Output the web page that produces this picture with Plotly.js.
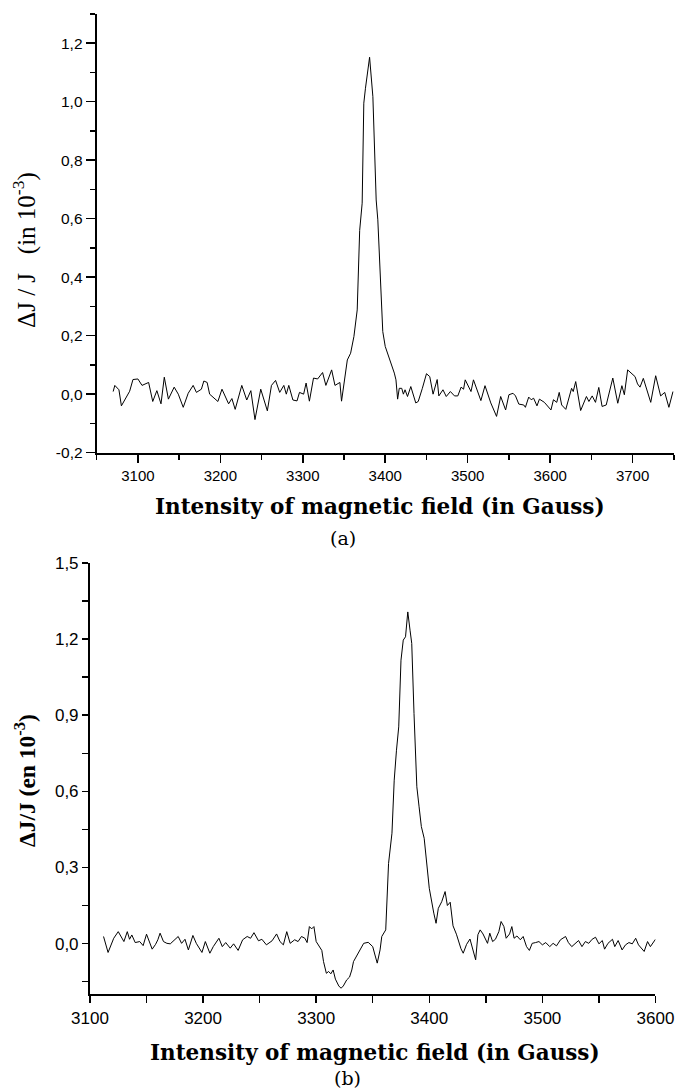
<!DOCTYPE html>
<html>
<head>
<meta charset="utf-8">
<script src="https://cdn.plot.ly/plotly-3.0.1.min.js"></script>
<style>html,body{margin:0;padding:0;background:#fff;}#chart{width:677px;height:1091px;}</style>
</head>
<body>
<div id="chart"></div>
<script>
// Panel (a): field in Gauss, ΔJ/J in 10^-3
const fieldA = [3070,3072,3077,3080,3090,3094,3100,3105,3113,3118,3123,3128,3132,3137,3144,3149,3155,3161,3167,3171,3177,3180,3184,3187,3197,3202,3210,3214,3218,3226,3232,3237,3242,3249,3257,3262,3267,3272,3277,3280,3283,3288,3293,3296,3301,3304,3308,3313,3318,3324,3328,3335,3339,3345,3347,3354,3358,3362,3366,3369,3372,3374,3376,3381,3385,3389,3391,3394,3397,3400,3405,3411,3413,3415,3417,3420,3422,3424,3427,3431,3437,3440,3445,3450,3454,3458,3463,3465,3470,3474,3479,3484,3488,3492,3495,3497,3504,3507,3516,3521,3528,3535,3540,3546,3550,3555,3558,3562,3568,3570,3574,3577,3580,3584,3587,3593,3601,3604,3608,3611,3614,3619,3626,3628,3631,3637,3644,3647,3651,3655,3659,3663,3668,3676,3682,3687,3690,3694,3703,3706,3709,3713,3722,3728,3734,3739,3744,3749];
const signalA = [0.009,0.03,0.015,-0.04,0.01,0.05,0.052,0.03,0.04,-0.025,0.012,-0.033,0.058,-0.017,0.024,0.0,-0.045,0.003,0.03,0.006,0.017,0.045,0.04,0.0,-0.025,0.017,-0.033,-0.015,-0.052,0.03,-0.02,0.012,-0.087,0.017,-0.057,0.03,0.047,0.006,0.03,0.0,0.03,-0.02,-0.023,0.006,0.0,0.038,-0.024,0.055,0.052,0.074,0.03,0.083,0.03,0.04,-0.024,0.117,0.14,0.197,0.288,0.56,0.653,0.995,1.046,1.152,1.017,0.664,0.596,0.425,0.214,0.163,0.123,0.072,0.049,-0.017,0.02,0.02,0.0,0.015,-0.008,0.026,-0.03,-0.025,0.02,0.07,0.06,0.0,0.05,-0.006,0.015,-0.008,0.009,-0.006,-0.006,0.024,0.017,0.049,0.009,0.049,-0.022,0.029,-0.03,-0.076,-0.008,-0.054,-0.002,0.003,-0.006,-0.034,-0.037,-0.045,-0.01,-0.019,-0.014,-0.04,-0.017,-0.028,-0.054,-0.019,-0.028,0.006,-0.037,-0.052,0.02,0.009,0.043,-0.056,-0.008,-0.025,-0.006,-0.028,0.023,-0.042,-0.037,0.055,-0.031,0.029,-0.002,0.083,0.06,0.035,0.024,0.054,-0.028,0.063,-0.006,0.006,-0.045,0.009];

// Panel (b)
const fieldB = [3112,3116,3121,3125,3130,3133,3135,3137,3140,3144,3147,3150,3155,3158,3160,3162,3165,3168,3171,3175,3178,3181,3184,3187,3191,3194,3199,3202,3206,3209,3214,3217,3220,3224,3227,3231,3235,3239,3242,3245,3249,3252,3256,3261,3265,3268,3271,3274,3277,3281,3284,3287,3290,3292,3294,3296,3298,3300,3303,3305,3306.5,3309,3311,3313,3315,3317,3320,3322,3324,3327,3329.5,3331.5,3333,3336,3339,3342,3346,3350,3352,3354,3356.5,3358,3361.5,3364,3367,3369,3371,3373,3375,3377,3379,3381,3383,3384.5,3386.5,3389,3391,3393,3395.5,3398,3400,3404,3406,3408,3411,3414,3416,3418.5,3421,3424,3428,3430,3433,3436,3439.5,3441,3443,3445,3447.5,3449.5,3451.5,3453.5,3456,3458.5,3461.5,3463.5,3466,3468,3471,3473,3475,3477.5,3480.5,3483,3486,3488.5,3491,3494,3497,3500,3503,3506.5,3509.5,3512.5,3516,3520.5,3523,3526,3529,3532,3535,3538,3541,3544,3547,3550,3553,3555,3558,3562,3564,3567,3570.5,3573.5,3576.5,3579.5,3582.5,3585,3590,3593,3595.5,3600];
const signalB = [0.028,-0.035,0.021,0.047,0.008,0.047,0.017,0.034,0.004,0.008,-0.008,0.037,-0.022,-0.003,0.015,0.041,0.008,0.001,-0.001,0.017,0.028,0.001,0.017,-0.025,0.032,0.001,-0.035,0.008,-0.038,-0.012,0.021,-0.012,0.004,-0.018,-0.001,-0.027,0.015,0.028,0.021,0.043,0.011,0.017,-0.005,0.011,0.038,0.008,-0.005,0.047,0.001,0.015,0.008,0.028,0.021,0.004,0.067,0.058,0.067,0.008,-0.012,-0.027,-0.071,-0.117,-0.11,-0.119,-0.104,-0.14,-0.167,-0.176,-0.167,-0.143,-0.132,-0.104,-0.071,-0.045,-0.025,0.001,0.005,-0.012,-0.045,-0.077,-0.025,0.028,0.054,0.316,0.435,0.644,0.762,0.854,1.117,1.196,1.209,1.307,1.235,1.183,0.907,0.618,0.539,0.461,0.415,0.303,0.218,0.12,0.08,0.139,0.165,0.205,0.15,0.163,0.07,0.037,-0.02,-0.038,-0.003,0.018,-0.035,-0.064,0.035,0.054,0.038,0.021,0.001,0.041,0.008,0.017,0.047,0.087,0.067,0.021,0.038,0.067,0.021,0.03,0.015,0.028,-0.012,-0.027,0.001,0.004,0.008,-0.005,0.004,-0.012,0.001,-0.009,0.015,0.028,0.004,-0.012,0.001,0.012,-0.012,0.008,0.001,0.017,0.025,-0.001,0.012,-0.022,0.001,0.017,-0.012,0.012,-0.025,-0.005,0.004,-0.001,0.021,-0.005,-0.031,0.008,-0.012,0.017];

const yTicksA = [-0.2,0,0.2,0.4,0.6,0.8,1.0,1.2];
const yLabelsA = ['-0,2','0,0','0,2','0,4','0,6','0,8','1,0','1,2'];
const yTicksB = [0,0.3,0.6,0.9,1.2,1.5];
const yLabelsB = ['0,0','0,3','0,6','0,9','1,2','1,5'];

const serif = 'Liberation Serif, Times New Roman, serif';
const cmserif = 'DejaVu Serif, serif';
const sans = 'Liberation Sans, Arial, sans-serif';

const traces = [
  {x: fieldA, y: signalA, type: 'scatter', mode: 'lines', line: {color: '#000', width: 1}, xaxis: 'x', yaxis: 'y', hoverinfo: 'skip'},
  {x: fieldB, y: signalB, type: 'scatter', mode: 'lines', line: {color: '#000', width: 1}, xaxis: 'x2', yaxis: 'y2', hoverinfo: 'skip'}
];

function axBase(extra) {
  return Object.assign({
    showgrid: false, zeroline: false, showline: true, linecolor: '#000', linewidth: 2,
    ticks: 'outside', tickcolor: '#000', tickwidth: 1.5, mirror: false
  }, extra);
}

const layout = {
  width: 677, height: 1091,
  margin: {l: 0, r: 0, t: 0, b: 0},
  paper_bgcolor: '#fff', plot_bgcolor: '#fff',
  showlegend: false,
  xaxis: axBase({domain: [0.1428, 0.9953], range: [3050, 3750], anchor: 'y',
    tickvals: [3100,3200,3300,3400,3500,3600,3700], ticklen: 8,
    tickfont: {family: sans, size: 15, color: '#000'},
    minor: {dtick: 50, tick0: 3050, ticklen: 5, tickcolor: '#000', tickwidth: 1.5, ticks: 'outside', showgrid: false}}),
  yaxis: axBase({domain: [0.5851, 0.9872], range: [-0.2, 1.3], anchor: 'x',
    tickvals: yTicksA, ticktext: yLabelsA, ticklen: 9,
    tickfont: {family: sans, size: 15.5, color: '#000'},
    minor: {dtick: 0.1, tick0: -0.2, ticklen: 5, tickcolor: '#000', tickwidth: 1.5, ticks: 'outside', showgrid: false}}),
  xaxis2: axBase({domain: [0.1329, 0.9682], range: [3100, 3600], anchor: 'y2',
    tickvals: [3100,3200,3300,3400,3500,3600], ticklen: 7,
    tickfont: {family: sans, size: 17, color: '#000'},
    minor: {dtick: 50, tick0: 3100, ticklen: 7, tickcolor: '#000', tickwidth: 1.5, ticks: 'outside', showgrid: false}}),
  yaxis2: axBase({domain: [0.0886, 0.4840], range: [-0.2, 1.5], anchor: 'x2',
    tickvals: yTicksB, ticktext: yLabelsB, ticklen: 6,
    tickfont: {family: sans, size: 17, color: '#000'},
    minor: {dtick: 0.15, tick0: 0, ticklen: 6, tickcolor: '#000', tickwidth: 1.5, ticks: 'outside', showgrid: false}}),
  annotations: [
    {xref: 'paper', yref: 'paper', x: 0.0369, y: 0.7709, xanchor: 'center', yanchor: 'middle', showarrow: false, textangle: -90,
     text: 'ΔJ / J\u00a0\u00a0\u00a0(in 10<sup>-3</sup>)', font: {family: serif, size: 25, color: '#000'}},
    {xref: 'paper', yref: 'paper', x: 0.5613, y: 0.5353, xanchor: 'center', yanchor: 'middle', showarrow: false,
     text: '<b>Intensity of magnetic field (in Gauss)</b>', font: {family: cmserif, size: 21.5, color: '#000'}},
    {xref: 'paper', yref: 'paper', x: 0.5066, y: 0.5069, xanchor: 'center', yanchor: 'middle', showarrow: false,
     text: '(a)', font: {family: cmserif, size: 19, color: '#000'}},
    {xref: 'paper', yref: 'paper', x: 0.0369, y: 0.285, xanchor: 'center', yanchor: 'middle', showarrow: false, textangle: -90,
     text: '<b>ΔJ/J (en 10<sup>-3</sup>)</b>', font: {family: serif, size: 23.5, color: '#000'}},
    {xref: 'paper', yref: 'paper', x: 0.5539, y: 0.0357, xanchor: 'center', yanchor: 'middle', showarrow: false,
     text: '<b>Intensity of magnetic field (in Gauss)</b>', font: {family: cmserif, size: 21.5, color: '#000'}},
    {xref: 'paper', yref: 'paper', x: 0.5126, y: 0.0119, xanchor: 'center', yanchor: 'middle', showarrow: false,
     text: '(b)', font: {family: cmserif, size: 19, color: '#000'}}
  ]
};

Plotly.newPlot('chart', traces, layout, {staticPlot: true, displayModeBar: false});
</script>
</body>
</html>
